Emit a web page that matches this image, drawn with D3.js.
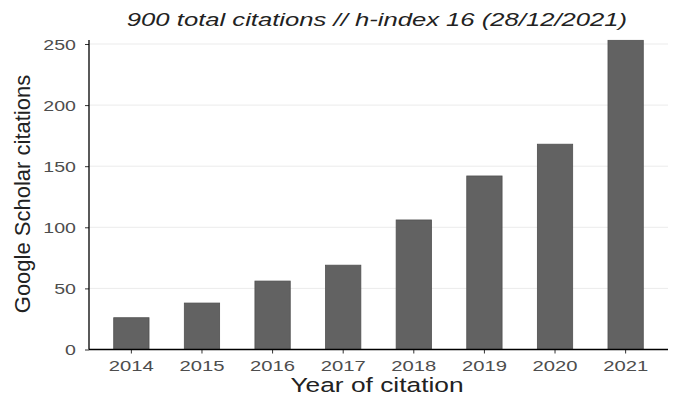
<!DOCTYPE html>
<html>
<head>
<meta charset="utf-8">
<script src="https://cdn.jsdelivr.net/npm/d3@7"></script>
<style>
  body { margin: 0; background: #fff; }
  svg { font-family: "Liberation Sans", Arial, sans-serif; }
</style>
</head>
<body>
<div id="chart"></div>
<script>
// data
var years = ["2014", "2015", "2016", "2017", "2018", "2019", "2020", "2021"];
var citations = [26, 38, 56, 69, 106, 142, 168, 253];
var yTicks = [0, 50, 100, 150, 200, 250];
var title = "900 total citations // h-index 16 (28/12/2021)";

var w = 680, h = 411;
var plotLeft = 89, plotRight = 668, plotBottom = 349.5, plotTop = 40;
var stretch = 1.35; // text in the picture is wider than it is tall

var svg = d3.select("#chart").append("svg")
    .attr("width", w)
    .attr("height", h);

var xScale = d3.scaleBand()
    .domain(years)
    .range([plotLeft, plotRight])
    .paddingInner(0.5)
    .paddingOuter(0.35);

var yScale = d3.scaleLinear()
    .domain([0, 250])
    .range([plotBottom, 44]);

// grid
svg.append("g").selectAll("line")
    .data(yTicks.slice(1))
    .enter()
    .append("line")
    .attr("x1", plotLeft)
    .attr("x2", plotRight)
    .attr("y1", function(d) { return yScale(d); })
    .attr("y2", function(d) { return yScale(d); })
    .attr("stroke", "#ebebeb")
    .attr("stroke-width", 1);

// bars
svg.append("g").selectAll("rect")
    .data(citations)
    .enter()
    .append("rect")
    .attr("x", function(d, i) { return xScale(years[i]); })
    .attr("y", function(d) { return yScale(d); })
    .attr("width", xScale.bandwidth())
    .attr("height", function(d) { return plotBottom - yScale(d); })
    .attr("fill", "#626262")
    .attr("stroke", "#505050")
    .attr("stroke-width", 0.8);

var xAxis = d3.axisBottom(xScale).tickSize(4).tickPadding(7);
var yAxis = d3.axisLeft(yScale).tickValues(yTicks).tickSize(4);

var gx = svg.append("g")
    .attr("transform", "translate(0," + plotBottom + ")")
    .call(xAxis);
gx.select(".domain").remove();
gx.append("line")
    .attr("x1", plotLeft).attr("x2", plotRight)
    .attr("stroke", "#000").attr("stroke-width", 1.3);
gx.selectAll(".tick text")
    .style("font-size", "15px")
    .attr("transform", "scale(" + stretch + ",1)");

var gy = svg.append("g")
    .attr("transform", "translate(" + plotLeft + ",0)")
    .call(yAxis);
gy.select(".domain").remove();
gy.append("line")
    .attr("y1", plotTop).attr("y2", plotBottom)
    .attr("stroke", "#000").attr("stroke-width", 1.3);
gy.selectAll(".tick text")
    .style("font-size", "14.5px")
    .attr("x", -13 / stretch)
    .attr("dy", "0.36em")
    .attr("transform", "scale(" + stretch + ",1)");

svg.selectAll(".tick line").attr("stroke", "#333");
svg.selectAll(".tick text").attr("fill", "#4d4d4d");

// titles
svg.append("text")
    .attr("transform", "translate(377,26) scale(" + stretch + ",1)")
    .attr("text-anchor", "middle")
    .style("font-style", "italic")
    .style("font-size", "19px")
    .attr("fill", "#222")
    .text(title);

svg.append("text")
    .attr("transform", "translate(377,392) scale(" + stretch + ",1)")
    .attr("text-anchor", "middle")
    .style("font-size", "19.5px")
    .attr("fill", "#222")
    .text("Year of citation");

svg.append("text")
    .attr("transform", "translate(30,194) rotate(-90)")
    .attr("text-anchor", "middle")
    .style("font-size", "22px")
    .attr("fill", "#222")
    .text("Google Scholar citations");
</script>
</body>
</html>
